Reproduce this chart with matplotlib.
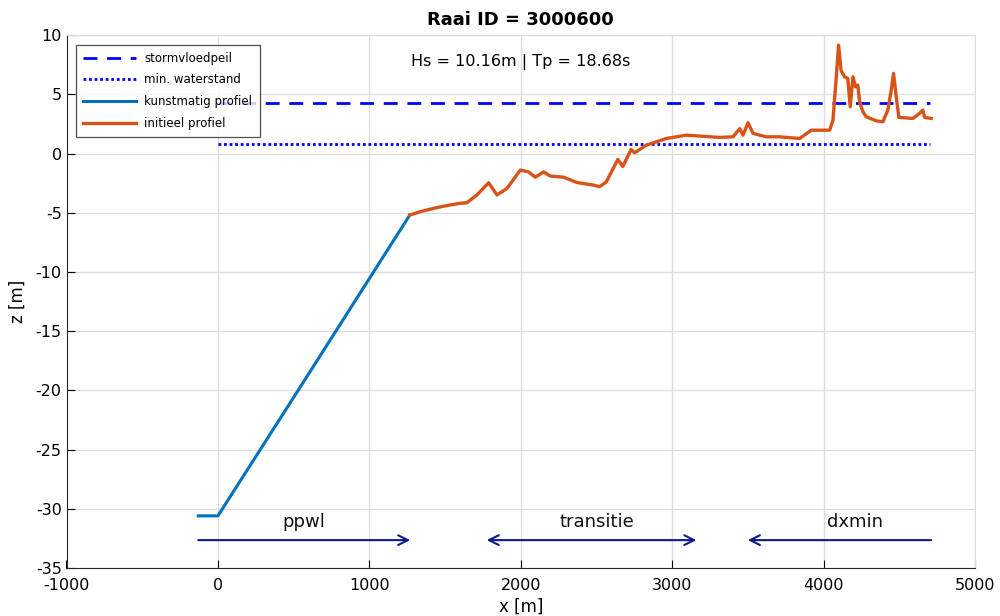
import numpy as np
import matplotlib
matplotlib.use("Agg")
import matplotlib.pyplot as plt

plt.rcParams["axes.unicode_minus"] = False

# levels
storm_x = [0, 4700]
storm_z = [4.25, 4.25]
minwl_x = [0, 4700]
minwl_z = [0.8, 0.8]

# artificial profile
kunst_x = [-130, 0, 470, 1267]
kunst_z = [-30.6, -30.6, -21.2, -5.2]

# initial profile
init_x = [1267, 1340, 1421, 1510, 1600, 1644, 1710, 1788, 1843, 1909, 1997, 2051, 2096, 2151,
          2195, 2283, 2371, 2481, 2521, 2565, 2641, 2674, 2729, 2751, 2829, 2961,
          3093, 3185, 3314, 3402, 3446, 3468, 3501, 3534, 3622, 3710, 3842, 3919,
          4040, 4062, 4084, 4099, 4116, 4138, 4160, 4176, 4194, 4211, 4226, 4238,
          4260, 4282, 4348, 4392, 4424, 4447, 4462, 4480, 4497, 4590, 4634, 4656,
          4667, 4711]
init_z = [-5.2, -4.9, -4.64, -4.4, -4.2, -4.16, -3.5, -2.47, -3.5, -2.95, -1.4, -1.55, -2.0, -1.55,
          -1.9, -2.0, -2.45, -2.67, -2.8, -2.4, -0.5, -1.1, 0.35, 0.06, 0.7, 1.27,
          1.55, 1.47, 1.36, 1.41, 2.1, 1.55, 2.6, 1.7, 1.41, 1.41, 1.27, 1.97,
          1.97, 2.82, 6.48, 9.15, 7.0, 6.48, 6.34, 3.94, 6.48, 5.63, 5.78, 4.37,
          3.52, 3.1, 2.76, 2.68, 3.67, 5.35, 6.77, 4.79, 3.05, 2.96, 3.39, 3.67,
          3.05, 2.96]

# zone arrows: (label, start, end, label_x, style)
zones = [
    ("ppwl", -130, 1270, 568, "->"),
    ("transitie", 1775, 3160, 2500, "<->"),
    ("dxmin", 4710, 3500, 4205, "->"),
]
arrow_z = -32.65
label_z = -31.1

fig = plt.figure(figsize=(10, 6.16), dpi=100)
ax = fig.add_axes([0.0665, 0.078, 0.9085, 0.865])

ax.plot(storm_x, storm_z, color="#0000FF", linestyle=(0, (5, 3.5)), linewidth=2, label="stormvloedpeil")
ax.plot(minwl_x, minwl_z, color="#0000FF", linestyle=(0, (1, 1)), linewidth=2, label="min. waterstand")
ax.plot(kunst_x, kunst_z, color="#0072BD", linewidth=2.2, label="kunstmatig profiel")
ax.plot(init_x, init_z, color="#D95319", linewidth=2.4, label="initieel profiel")

for name, x0, x1, xl, style in zones:
    ax.annotate("", xy=(x1, arrow_z), xytext=(x0, arrow_z),
                arrowprops=dict(arrowstyle=style + ",head_width=0.35,head_length=0.7",
                                color="#0D1A8C", lw=1.5, shrinkA=0, shrinkB=0))
    ax.text(xl, label_z, name, ha="center", va="center", fontsize=13, color="#111111")

ax.text(2000, 7.7, "Hs = 10.16m | Tp = 18.68s", ha="center", va="center", fontsize=11.5)
ax.set_title("Raai ID = 3000600", fontsize=13, fontweight="bold", pad=7)

ax.set_xlim(-1000, 5000)
ax.set_ylim(-35, 10)
ax.set_xticks(np.arange(-1000, 5001, 1000))
ax.set_yticks(np.arange(-35, 11, 5))
ax.tick_params(direction="in", labelsize=11.5, length=6, top=False, right=False)
ax.tick_params(axis="x", pad=7)
ax.grid(True, color="#DDDDDD", linewidth=0.9)
ax.set_axisbelow(True)
for s in ["top", "right"]:
    ax.spines[s].set_color("#DDDDDD")
for s in ["left", "bottom"]:
    ax.spines[s].set_color("#262626")
ax.set_xlabel("x [m]", fontsize=12, labelpad=4)
ax.set_ylabel("z [m]", fontsize=12, labelpad=6)

leg = ax.legend(loc="upper left", fontsize=8.5, frameon=True, fancybox=False,
                edgecolor="#262626", handlelength=4.5, borderaxespad=0.8,
                labelspacing=0.75, borderpad=0.6, handletextpad=0.7)
leg.get_frame().set_linewidth(0.9)

fig.savefig("out.png", dpi=100)
